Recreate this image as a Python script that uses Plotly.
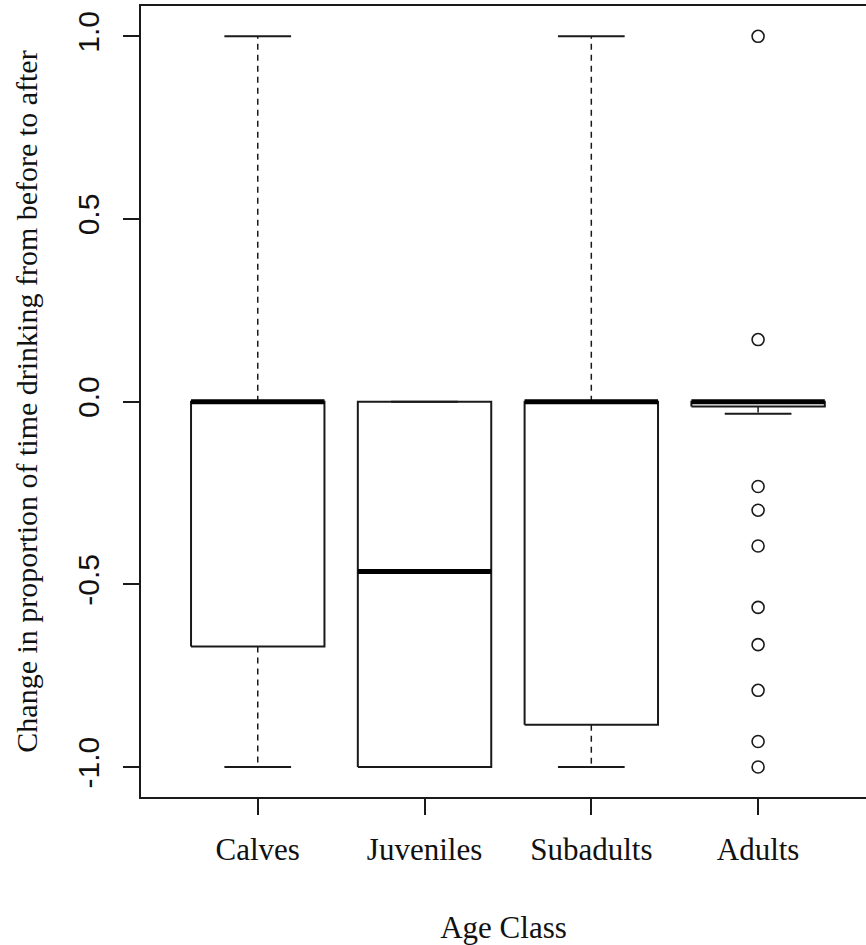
import plotly.graph_objects as go

# ---- data ----
categories = ["Calves", "Juveniles", "Subadults", "Adults"]
lower_whisker = [-1.0, -1.0, -1.0, -0.033]
q1 = [-0.67, -1.0, -0.884, -0.013]
median = [0.0, -0.465, 0.0, 0.0]
q3 = [0.0, 0.0, 0.0, 0.0]
upper_whisker = [1.0, 0.0, 1.0, 0.0]
adult_outliers = [1.0, 0.17, -0.232, -0.297, -0.395, -0.563, -0.665, -0.79, -0.93, -1.0]
y_ticks = [-1.0, -0.5, 0.0, 0.5, 1.0]
y_tick_labels = ["-1.0", "-0.5", "0.0", "0.5", "1.0"]

BOX_HALF = 0.4
CAP_HALF = 0.2
INK = "#1a1a1a"

positions = list(range(1, len(categories) + 1))

box_x, box_y = [], []
med_x, med_y = [], []
wh_x, wh_y = [], []
cap_x, cap_y = [], []
for p, lo, a, m, b, hi in zip(positions, lower_whisker, q1, median, q3, upper_whisker):
    box_x += [p - BOX_HALF, p + BOX_HALF, p + BOX_HALF, p - BOX_HALF, p - BOX_HALF, None]
    box_y += [a, a, b, b, a, None]
    med_x += [p - BOX_HALF, p + BOX_HALF, None]
    med_y += [m, m, None]
    wh_x += [p, p, None, p, p, None]
    wh_y += [a, lo, None, b, hi, None]
    cap_x += [p - CAP_HALF, p + CAP_HALF, None, p - CAP_HALF, p + CAP_HALF, None]
    cap_y += [lo, lo, None, hi, hi, None]

fig = go.Figure()
fig.add_trace(go.Scatter(x=wh_x, y=wh_y, mode="lines",
                         line=dict(color=INK, width=1.5, dash="6px,5px"), hoverinfo="skip"))
fig.add_trace(go.Scatter(x=cap_x, y=cap_y, mode="lines",
                         line=dict(color=INK, width=2), hoverinfo="skip"))
fig.add_trace(go.Scatter(x=box_x, y=box_y, mode="lines",
                         line=dict(color=INK, width=2), hoverinfo="skip"))
fig.add_trace(go.Scatter(x=med_x, y=med_y, mode="lines",
                         line=dict(color="#000000", width=5), hoverinfo="skip"))
fig.add_trace(go.Scatter(x=[positions[-1]] * len(adult_outliers), y=adult_outliers,
                         mode="markers",
                         marker=dict(symbol="circle-open", size=12, color=INK,
                                     line=dict(width=1.6, color=INK)),
                         hoverinfo="skip"))

fig.update_layout(
    width=866, height=945,
    margin=dict(l=141, r=0, t=6, b=148),
    paper_bgcolor="white", plot_bgcolor="white",
    showlegend=False,
)
fig.update_xaxes(
    range=[0.3, 4.647],
    tickvals=positions, ticktext=categories,
    ticks="outside", ticklen=16, tickwidth=2, tickcolor=INK,
    showline=True, linecolor=INK, linewidth=2, mirror=True,
    showgrid=False, zeroline=False,
    ticklabelstandoff=8,
    tickfont=dict(family="Liberation Serif", size=31, color="#111"),
    title=dict(text="Age Class", font=dict(family="Liberation Serif", size=31, color="#111"),
               standoff=56),
    automargin=False,
)
fig.update_yaxes(
    range=[-1.082, 1.083],
    tickvals=y_ticks, ticktext=y_tick_labels, tickangle=-90,
    ticks="outside", ticklen=16, tickwidth=2, tickcolor=INK,
    showline=True, linecolor=INK, linewidth=2, mirror=False,
    showgrid=False, zeroline=False,
    ticklabelstandoff=12,
    tickfont=dict(family="Liberation Sans Narrow, Liberation Sans", size=30, color="#111"),
    title=dict(text="Change in proportion of time drinking from before to after",
               font=dict(family="Liberation Serif", size=30, color="#111"), standoff=26),
    automargin=False,
)

fig.write_html("out.html", config={"displayModeBar": False},
               post_script="document.body.style.margin='0';")
